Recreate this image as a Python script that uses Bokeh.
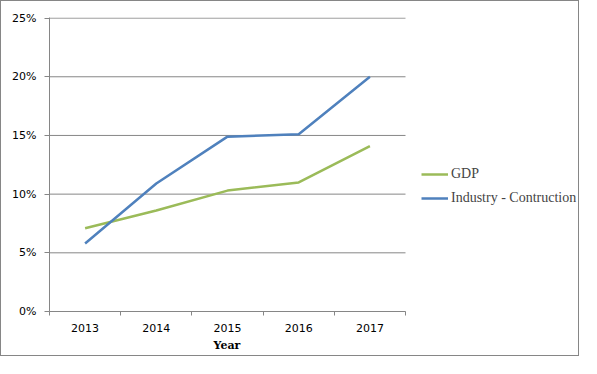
from bokeh.plotting import figure
from bokeh.models import FixedTicker, NumeralTickFormatter, Legend, LegendItem, Range1d, Title
from bokeh.embed import file_html
from bokeh.resources import INLINE

years = ["2013", "2014", "2015", "2016", "2017"]
gdp = [0.071, 0.086, 0.103, 0.110, 0.141]
industry = [0.058, 0.109, 0.149, 0.151, 0.200]
y_ticks = [0, 0.05, 0.10, 0.15, 0.20, 0.25]

n = len(years)
xpos = [i + 0.5 for i in range(n)]

GREY = "#868686"

# frame extends to the right to leave room for the legend (data occupies 0..n)
p = figure(width=579, height=356, output_backend="svg", toolbar_location=None,
           x_range=Range1d(0, n * 530 / 356), y_range=Range1d(0, 0.2505),
           min_border_left=48, min_border_top=16, min_border_right=1, min_border_bottom=46)
p.styles = {"border": "1px solid " + GREY}
p.outline_line_color = None
p.background_fill_color = "white"
p.border_fill_color = "white"

# horizontal gridlines limited to the data area
p.segment(x0=[0] * len(y_ticks), x1=[n] * len(y_ticks), y0=y_ticks, y1=y_ticks,
          line_color=GREY, line_width=1)

r_gdp = p.line(xpos, gdp, line_color="#9BBB59", line_width=2.5)
r_ind = p.line(xpos, industry, line_color="#4F81BD", line_width=2.5)

# x axis
p.xaxis.bounds = (0, n)
p.xaxis.ticker = FixedTicker(ticks=xpos, minor_ticks=list(range(n + 1)))
p.xaxis.major_label_overrides = {x: y for x, y in zip(xpos, years)}
p.xaxis.major_tick_out = 0
p.xaxis.major_tick_in = 0
p.xaxis.minor_tick_out = 4
p.xaxis.minor_tick_in = 0
p.xaxis.minor_tick_line_color = GREY
p.xaxis.axis_line_color = GREY
p.xaxis.major_label_standoff = 8
p.xaxis.major_label_text_font = "DejaVu Sans"
p.xaxis.major_label_text_font_size = "11px"
p.xaxis.major_label_text_color = "black"
p.xgrid.grid_line_color = None
p.ygrid.grid_line_color = None

# x axis title, centred under the data area
p.add_layout(Title(text="Year", align="left", offset=164, standoff=5,
                   text_font="DejaVu Serif", text_font_style="bold",
                   text_font_size="11px", text_color="black"), "below")

# y axis
p.yaxis.ticker = FixedTicker(ticks=y_ticks, minor_ticks=[])
p.yaxis.formatter = NumeralTickFormatter(format="0%")
p.yaxis.major_tick_out = 5
p.yaxis.major_tick_in = 0
p.yaxis.major_tick_line_color = GREY
p.yaxis.axis_line_color = GREY
p.yaxis.major_label_standoff = 8
p.yaxis.major_label_text_font = "DejaVu Sans"
p.yaxis.major_label_text_font_size = "11px"
p.yaxis.major_label_text_color = "black"

legend = Legend(items=[LegendItem(label="GDP", renderers=[r_gdp]),
                       LegendItem(label="Industry - Contruction", renderers=[r_ind])],
                location=(372, 103), padding=0, margin=0, spacing=4,
                glyph_width=27, glyph_height=20, label_height=20, label_standoff=3,
                border_line_color=None, background_fill_alpha=0,
                label_text_font="Liberation Serif", label_text_font_size="14px")
p.add_layout(legend, "center")

open("out.html", "w").write(file_html(p, INLINE))
